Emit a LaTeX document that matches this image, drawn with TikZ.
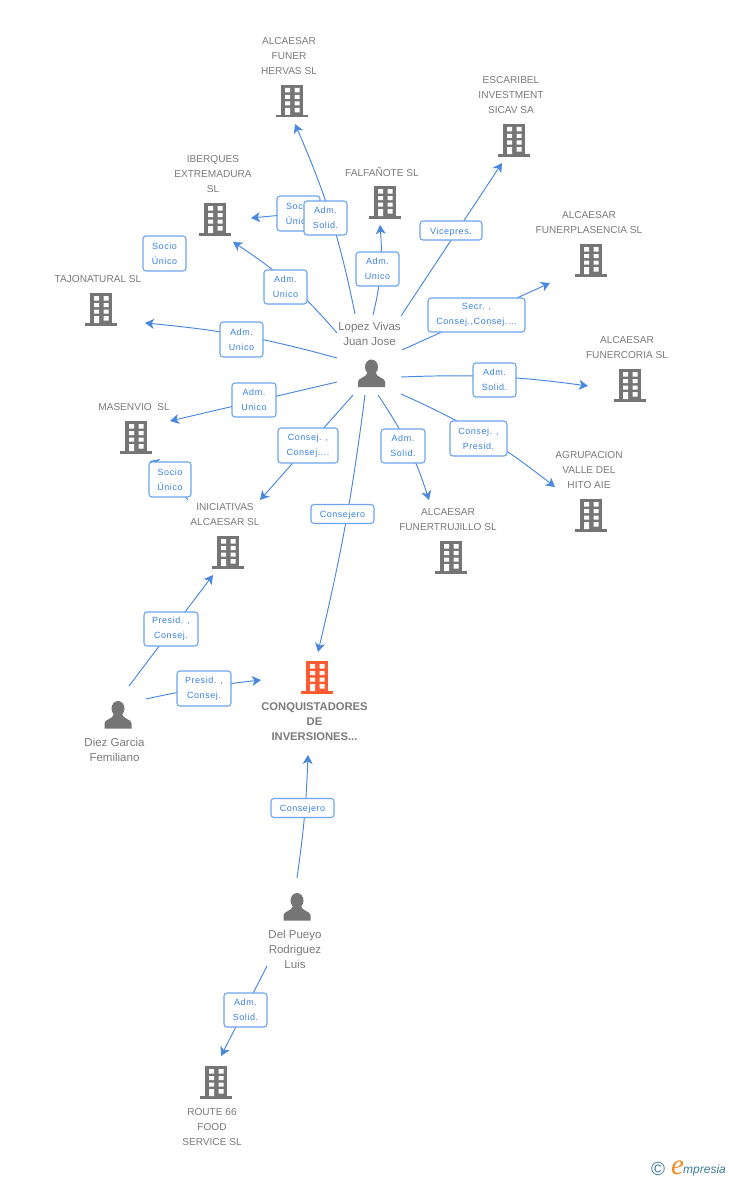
\documentclass[tikz,border=0pt]{standalone}
\usepackage{fontspec}
\setmainfont{Liberation Sans}
\newfontfamily\lblfont[LetterSpace=6]{Liberation Sans}
\newfontfamily\logoserif{Liberation Serif}
\usetikzlibrary{arrows.meta,backgrounds}
\definecolor{txtgray}{HTML}{7A7A7A}
\definecolor{bldggray}{HTML}{757575}
\definecolor{bldgorange}{HTML}{FF5A30}
\definecolor{edgeblue}{HTML}{4A88E0}
\definecolor{boxblue}{HTML}{6CA4EE}
\definecolor{lbltext}{HTML}{3B82E6}
\definecolor{logoteal}{HTML}{3E7C97}
\definecolor{logoorange}{HTML}{F58A1F}
\tikzset{
  bldg/.style={minimum width=36,minimum height=36,inner sep=0,
    path picture={
      \begin{scope}[shift={(path picture bounding box.center)}]
        \fill[#1] (-11,-16) rectangle (11,14);
        \fill[#1] (-16,14) rectangle (16,16.5);
        \fill[white] (-7,-13) rectangle (-2,-8.5) (2.5,-13) rectangle (7.5,-8.5)
                     (-7,-6) rectangle (-2,-2) (2.5,-6) rectangle (7.5,-2)
                     (-7,0.5) rectangle (-2,4.5) (2.5,0.5) rectangle (7.5,4.5)
                     (-7,7) rectangle (-2,14) (2.5,7) rectangle (7.5,11.5);
      \end{scope}}},
  bldg/.default=bldggray,
  person/.style={minimum width=30,minimum height=30,inner sep=0,
    path picture={
      \begin{scope}[shift={(path picture bounding box.center)}]
        \fill[bldggray] (0,-6.5) ellipse (6.5 and 7.5);
        \fill[bldggray] (-13.5,13.5) -- (-13.5,8) .. controls (-13.5,4.5) and (-5,4) .. (-4,-1)
          -- (4,-1) .. controls (5,4) and (13.5,4.5) .. (13.5,8) -- (13.5,13.5) -- cycle;
      \end{scope}}},
  name text/.style={inner sep=0,yshift=-1pt,align=center,text=txtgray,font=\fontsize{10.1}{15}\selectfont},
  person text/.style={inner sep=0,yshift=-1pt,align=center,text=txtgray,font=\fontsize{11.5}{15}\selectfont},
  main text/.style={inner sep=0,yshift=-1pt,align=center,text=txtgray,font=\fontsize{11.2}{15}\selectfont\bfseries},
  lbl/.style={draw=boxblue,line width=1.1pt,rounded corners=3pt,fill=white,inner sep=0,
    align=center,text=lbltext,font=\fontsize{9}{15}\selectfont\lblfont,
    execute at begin node={\rule{0pt}{9.5pt}}},
  edge/.style={draw=edgeblue,line width=0.95pt,-{Stealth[length=9pt,width=10pt,inset=2.5pt]}}
}
\begin{document}
\begin{tikzpicture}[x=1pt,y=-1pt]
\useasboundingbox (0,0) rectangle (728,1180);
% buildings
\node[bldg] (hervas) at (292,101) {};
\node[bldg] (escaribel) at (514,140) {};
\node[bldg] (falfanote) at (385,202) {};
\node[bldg] (iberques) at (215,219) {};
\node[bldg] (plasencia) at (591,260) {};
\node[bldg] (tajo) at (101,309) {};
\node[bldg] (coria) at (630,385) {};
\node[bldg] (masenvio) at (136,437) {};
\node[bldg] (agrupacion) at (591,515) {};
\node[bldg] (iniciativas) at (228,552) {};
\node[bldg] (trujillo) at (451,557) {};
\node[bldg=bldgorange] (conquist) at (317,677) {};
\node[bldg] (route) at (216,1082) {};
% persons
\node[person] (lopez) at (371.5,373.5) {};
\node[person] (diez) at (118,715) {};
\node[person] (pueyo) at (297,907) {};
% texts
\node[name text] (thervas) at (289,55) {ALCAESAR\\FUNER\\HERVAS SL};
\node[name text] (tescaribel) at (511,94) {ESCARIBEL\\INVESTMENT\\SICAV SA};
\node[name text] (tfalfanote) at (382,171) {FALFAÑOTE SL};
\node[name text] (tiberques) at (213,173) {IBERQUES\\EXTREMADURA\\SL};
\node[name text] (tplasencia) at (589,221.5) {ALCAESAR\\FUNERPLASENCIA SL};
\node[name text] (ttajo) at (98,278) {TAJONATURAL SL};
\node[name text] (tcoria) at (627,346.5) {ALCAESAR\\FUNERCORIA SL};
\node[name text] (tmasenvio) at (134,406) {MASENVIO\ \ SL};
\node[name text] (tagrupacion) at (589,469) {AGRUPACION\\VALLE DEL\\HITO AIE};
\node[name text] (tiniciativas) at (225,513.5) {INICIATIVAS\\ALCAESAR SL};
\node[name text] (ttrujillo) at (448,518.5) {ALCAESAR\\FUNERTRUJILLO SL};
\node[main text] (tconquist) at (314.5,721) {CONQUISTADORES\\DE\\INVERSIONES...};
\node[name text] (troute) at (212,1126) {ROUTE 66\\FOOD\\SERVICE SL};
\node[person text] (tlopez) at (369.5,333) {Lopez Vivas\\Juan Jose};
\node[person text] (tdiez) at (114.5,749) {Diez Garcia\\Femiliano};
\node[person text] (tpueyo) at (295,948.5) {Del Pueyo\\Rodriguez\\Luis};
% labels
\node[lbl,minimum width=43,minimum height=35] (l1) at (298.5,213.5) {Socio\\Único};
\node[lbl,minimum width=43,minimum height=34] (l2) at (325.5,218) {Adm.\\Solid.};
\node[lbl,minimum width=43,minimum height=35] (l3) at (164.5,253.5) {Socio\\Único};
\node[lbl,minimum width=43,minimum height=34] (l4) at (285.5,287) {Adm.\\Unico};
\node[lbl,minimum width=43,minimum height=35] (l5) at (241.5,339.5) {Adm.\\Unico};
\node[lbl,minimum width=43,minimum height=34] (l6) at (377.5,269) {Adm.\\Unico};
\node[lbl,minimum width=62,minimum height=19] (l7) at (451,230.5) {Vicepres.};
\node[lbl,minimum width=97,minimum height=34] (l8) at (476.5,315) {Secr. ,\\Consej.,Consej....};
\node[lbl,minimum width=43,minimum height=34] (l9) at (494.5,380) {Adm.\\Solid.};
\node[lbl,minimum width=57,minimum height=35] (l10) at (478.5,438.5) {Consej. ,\\Presid.};
\node[lbl,minimum width=44,minimum height=34] (l11) at (403,446) {Adm.\\Solid.};
\node[lbl,minimum width=60,minimum height=35] (l12) at (308,445.5) {Consej. ,\\Consej....};
\node[lbl,minimum width=44,minimum height=34] (l13) at (254,400) {Adm.\\Unico};
\node[lbl,minimum width=42,minimum height=35] (l14) at (170,479.5) {Socio\\Único};
\node[lbl,minimum width=63,minimum height=19] (l15) at (342.5,514) {Consejero};
\node[lbl,minimum width=54,minimum height=34] (l16) at (171,629) {Presid. ,\\Consej.};
\node[lbl,minimum width=54,minimum height=35] (l17) at (204,688.5) {Presid. ,\\Consej.};
\node[lbl,minimum width=63,minimum height=19] (l18) at (302.5,808) {Consejero};
\node[lbl,minimum width=43,minimum height=34] (l19) at (245.5,1010) {Adm.\\Solid.};
% logo
\node[inner sep=0,text=logoteal,font=\fontsize{19}{19}\selectfont] (copy) at (658,1169) {©};
\node[inner sep=0,text=logoorange,font=\fontsize{29}{29}\selectfont\logoserif\itshape] (elogo) at (677.5,1167.5) {e};
\node[inner sep=0,anchor=west,text=logoteal,font=\fontsize{12}{12}\selectfont\itshape] (mlogo) at (683,1170) {mpresia};
% connectors
\begin{scope}[on background layer]
\draw[edge] ([shift={(-16.5,-59.5)}]lopez.center) to[bend right=6] ([shift={(3,23)}]hervas.center);
\draw[edge] ([shift={(-34.5,-40.5)}]lopez.center) to[bend right=8] ([shift={(18,23)}]iberques.center);
\draw[edge] ([shift={(-34.5,-15.5)}]lopez.center) to[bend right=5] ([shift={(44,14)}]tajo.center);
\draw[edge] ([shift={(1.5,-58.5)}]lopez.center) to[bend right=9] ([shift={(-5,23)}]falfanote.center);
\draw[edge] ([shift={(29.5,-57.5)}]lopez.center) -- ([shift={(-12,23)}]escaribel.center);
\draw[edge] ([shift={(30.5,-23.5)}]lopez.center) -- ([shift={(-41,23)}]plasencia.center);
\draw[edge] ([shift={(29.5,3.5)}]lopez.center) to[bend left=5] ([shift={(-42,1)}]coria.center);
\draw[edge] ([shift={(29.5,20.5)}]lopez.center) to[bend left=7] ([shift={(-36,-28)}]agrupacion.center);
\draw[edge] ([shift={(6.5,21.5)}]lopez.center) to[bend left=8] ([shift={(-22,-57)}]trujillo.center);
\draw[edge] ([shift={(-6.5,21.5)}]lopez.center) to[bend left=3] ([shift={(1,-25)}]conquist.center);
\draw[edge] ([shift={(-18.5,21.5)}]lopez.center) -- ([shift={(32,-52)}]iniciativas.center);
\draw[edge] ([shift={(-34.5,8.5)}]lopez.center) -- ([shift={(34,-16)}]masenvio.center);
\draw[edge] (l1.center) -- ([shift={(36,-1)}]iberques.center);
\draw[edge] ([shift={(-40,-52)}]iniciativas.center) .. controls (172,480) and (165,466) .. ([shift={(14,24)}]masenvio.center);
\draw[edge] ([shift={(11,-29)}]diez.center) -- ([shift={(-15,23)}]iniciativas.center);
\draw[edge] ([shift={(28,-16)}]diez.center) to[bend left=3] ([shift={(-56,3)}]conquist.center);
\draw[edge] ([shift={(0,-29)}]pueyo.center) to[bend right=3] ([shift={(-9,78)}]conquist.center);
\draw[edge] ([shift={(-30,59)}]pueyo.center) -- ([shift={(5,-26)}]route.center);
\end{scope}
\end{tikzpicture}
\end{document}
